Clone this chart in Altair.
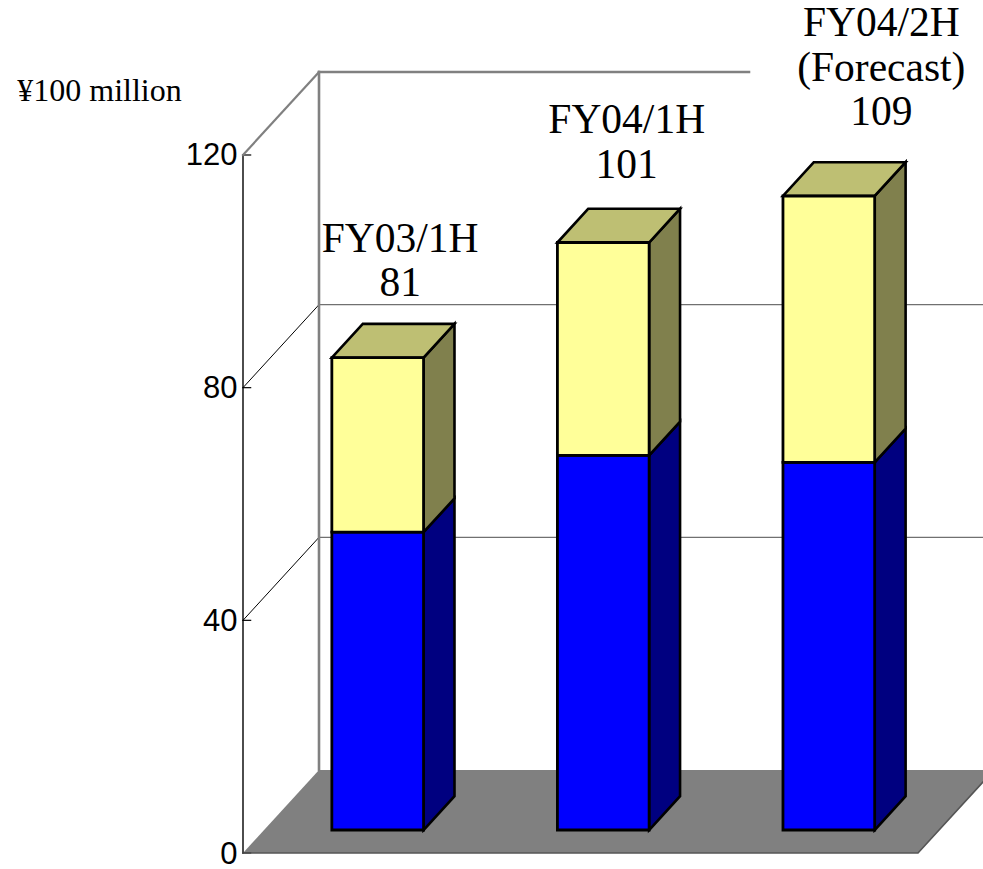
import altair as alt
import pandas as pd

periods = [["FY03/1H"], ["FY04/1H"], ["FY04/2H", "(Forecast)"]]
lower_segment = [51.2, 64.4, 63.2]
upper_segment = [30.0, 36.6, 45.8]
totals = [81, 101, 109]
value_ticks = [0, 40, 80, 120]

# Oblique projection of the box: one depth unit moves a point right and up.
PX_C = 225.0
PX_V = 5.8167
SHIFT_C = 76 / PX_C
SHIFT_V = 83 / PX_V
BAR_STEP = 1.0025
BAR_START = 0.3013
BAR_WIDTH = 0.4076
DEPTH_FRONT = 0.277
DEPTH_BACK = 0.684
LOWER_FILLS = ("#0000FF", "#000080", "#000080")
UPPER_FILLS = ("#FFFF99", "#80804D", "#BEBF73")


def project(c, v, depth=0.0):
    return c + depth * SHIFT_C, v + depth * SHIFT_V


def line_rows(name, colour, width, *points):
    rows = []
    for order, (c, v, depth) in enumerate(points):
        x, y = project(c, v, depth)
        rows.append({"id": name, "order": order, "x": x, "y": y,
                     "colour": colour, "width": width})
    return rows


line_data = []
line_data += line_rows("axis", "#000000", 1.4, (0, 0, 0), (0, 120, 0))
for tick in value_ticks:
    line_data += line_rows(f"tick{tick}", "#000000", 1.2, (0, tick, 0), (0.034, tick, 0))
for tick in [40, 80]:
    line_data += line_rows(f"diag{tick}", "#000000", 1.0, (0, tick, 0), (0, tick, 1))
    line_data += line_rows(f"back{tick}", "#707070", 1.4, (0, tick, 1), (3, tick, 1))
line_data += line_rows("diag120", "#808080", 2.2, (0, 120, 0), (0, 120, 1))
line_data += line_rows("back120", "#808080", 2.6, (0, 120, 1), (1.911, 120, 1))
line_data += line_rows("wall", "#808080", 2.6, (0, 0, 1), (0, 120, 1))
line_data += line_rows("edge", "#555555", 1.6, (0, 0, 0), (3, 0, 0), (3, 0, 1))
lines = pd.DataFrame(line_data)

fronts, sides, tops = [], [], []
for i, (low, high) in enumerate(zip(lower_segment, upper_segment)):
    left = i * BAR_STEP + BAR_START
    right = left + BAR_WIDTH
    for part, base, top, fills in (("a", 0, low, LOWER_FILLS), ("b", low, low + high, UPPER_FILLS)):
        x0, y0 = project(left, base, DEPTH_FRONT)
        x1, y1 = project(right, top, DEPTH_FRONT)
        fronts.append({"x": x0, "x2": x1, "y": y0, "y2": y1, "fill": fills[0]})
        for depth in (DEPTH_FRONT, DEPTH_BACK):
            x, y = project(right, base, depth)
            _, y2 = project(right, top, depth)
            sides.append({"face": f"{i}{part}", "x": x, "y": y, "y2": y2, "fill": fills[1]})
    for depth in (DEPTH_FRONT, DEPTH_BACK):
        xa, y = project(left, low + high, depth)
        xb, _ = project(right, low + high, depth)
        tops.append({"face": str(i), "x": xa, "x2": xb, "y": y, "fill": UPPER_FILLS[2]})

floor = pd.DataFrame([
    {"x": project(0, 0, d)[0], "x2": project(3, 0, d)[0], "y": project(0, 0, d)[1]}
    for d in (0, 1)
])

# Caption lines stack upward from the bar's top face; the shifts are in pixels.
LINE_STEP = 44.5
caption_rows = []
for i, (names, total, shift_x, gap) in enumerate(zip(periods, totals, (7, 8, 37), (29, 31, 37))):
    x, _ = project(i * BAR_STEP + BAR_START + BAR_WIDTH / 2, total, (DEPTH_FRONT + DEPTH_BACK) / 2)
    _, y_back = project(0, total, DEPTH_BACK)
    stack = names + [str(total)]
    for rank, text in enumerate(reversed(stack)):
        caption_rows.append({
            "text": text,
            "x": x + shift_x / PX_C,
            "y": y_back + (gap + rank * LINE_STEP) / PX_V,
        })
captions = pd.DataFrame(caption_rows)

x_scale = alt.Scale(domain=[0, 740 / PX_C], nice=False, zero=False)
y_scale = alt.Scale(domain=[0, 853 / PX_V], nice=False, zero=False)
X = alt.X("x:Q", scale=x_scale, axis=None, stack=None)
X2 = alt.X2("x2:Q")
Y = alt.Y(
    "y:Q", scale=y_scale, stack=None,
    axis=alt.Axis(
        values=value_ticks, domain=False, ticks=False, grid=False,
        labelFont="Liberation Sans", labelFontSize=31, labelColor="#000000",
        labelPadding=6, labelBaseline="middle", labelOffset=1,
        title="¥100 million", titleAngle=0, titleFont="Liberation Serif",
        titleFontSize=32, titleFontWeight="normal", titleColor="#000000",
        titleAlign="center", titleBaseline="middle", titleX=-144, titleY=90,
    ),
)
Y2 = alt.Y2("y2:Q")
FILL = alt.Fill("fill:N", scale=None, legend=None)

floor_layer = alt.Chart(floor).mark_area(orient="horizontal", color="#808080").encode(x=X, x2=X2, y=Y)

line_layer = alt.Chart(lines).mark_line(strokeCap="square").encode(
    x=X,
    y=Y,
    detail="id:N",
    order="order:Q",
    stroke=alt.Stroke("colour:N", scale=None, legend=None),
    strokeWidth=alt.StrokeWidth("width:Q", scale=None, legend=None),
)

side_layer = alt.Chart(pd.DataFrame(sides)).mark_area(
    orient="vertical", stroke="#000000", strokeWidth=2.6, strokeJoin="miter"
).encode(x=X, y=Y, y2=Y2, detail="face:N", fill=FILL)

top_layer = alt.Chart(pd.DataFrame(tops)).mark_area(
    orient="horizontal", stroke="#000000", strokeWidth=2.6, strokeJoin="miter"
).encode(x=X, x2=X2, y=Y, detail="face:N", fill=FILL)

front_layer = alt.Chart(pd.DataFrame(fronts)).mark_rect(
    stroke="#000000", strokeWidth=2.8
).encode(x=X, x2=X2, y=Y, y2=Y2, fill=FILL)

caption_layer = alt.Chart(captions).mark_text(
    font="Liberation Serif", fontSize=41.5, color="#000000", align="center",
    baseline="alphabetic",
).encode(x=X, y=Y, text="text:N")

chart = alt.layer(
    floor_layer, line_layer, side_layer, top_layer, front_layer, caption_layer
).resolve_scale(x="shared", y="shared").properties(
    width=740, height=853,
    padding={"left": 243, "top": 0, "right": 0, "bottom": 16},
    autosize=alt.AutoSizeParams(type="none"),
    background="#FFFFFF",
).configure_view(stroke="transparent", strokeWidth=0)

chart.save("out.html", embed_options={"renderer": "svg", "actions": False})
